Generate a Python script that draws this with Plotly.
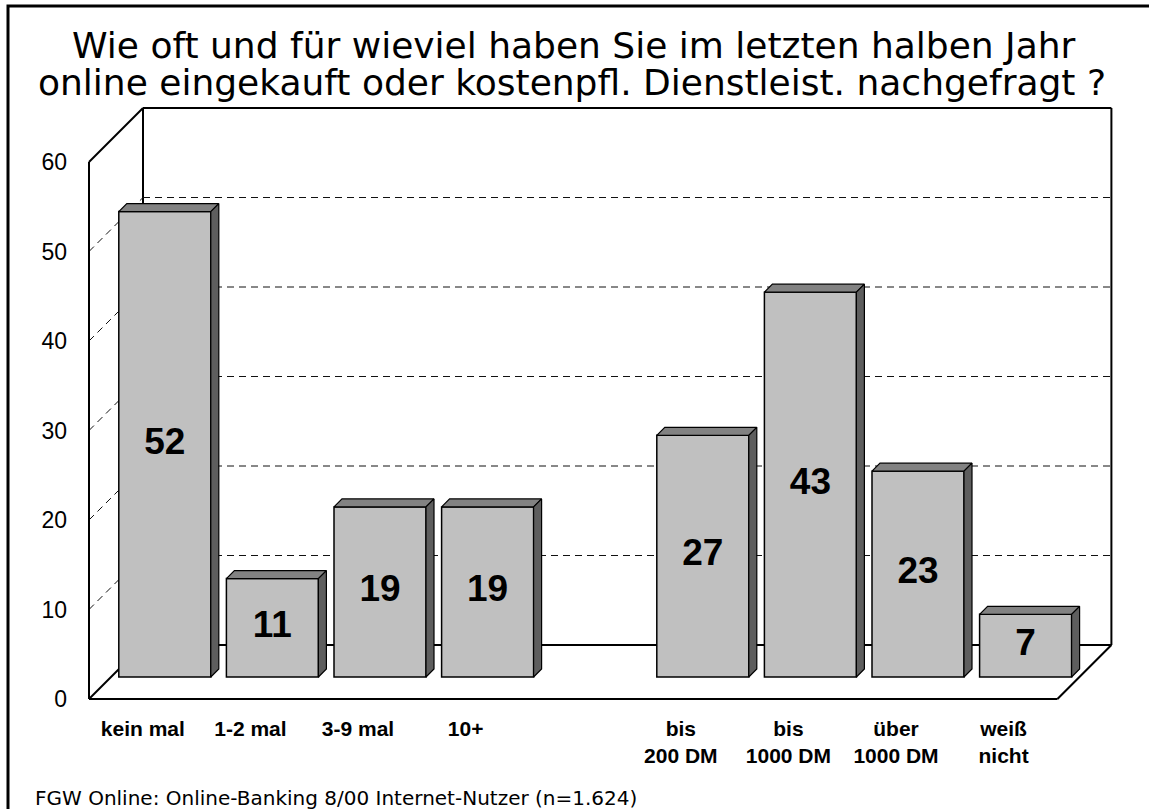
import plotly.graph_objects as go

# ---------------- data ----------------
categories = ["kein mal", "1-2 mal", "3-9 mal", "10+", "",
              "bis<br>200 DM", "bis<br>1000 DM", "über<br>1000 DM", "weiß<br>nicht"]
values = [52, 11, 19, 19, None, 27, 43, 23, 7]
y_ticks = [0, 10, 20, 30, 40, 50, 60]
title_line1 = "Wie oft und für wieviel haben Sie im letzten halben Jahr"
title_line2 = "online eingekauft oder kostenpfl. Dienstleist. nachgefragt ?"
footnote = "FGW Online: Online-Banking 8/00 Internet-Nutzer (n=1.624)"

# ---------------- geometry / style ----------------
W, H = 1149, 809
FRONT_X0 = 89      # pixel x of the left front edge of the floor
FRONT_Y0 = 699     # pixel y of value 0 on the front plane
SLOT_PX = 107.6    # pixels per category slot
UNIT_PX = 8.95     # pixels per value unit
BAR_OFF = 22       # depth offset of the bar plane (px)
BACK_OFF = 54      # depth offset of the back wall (px)
BAR_DEPTH = 8      # bar thickness in depth (px)
BAR_W = 0.855      # bar width in slots
PL, PR, PT, PB = 76, 1128, 96, 712   # plot-area pixel box

n = len(categories)
xr = [-0.5 + (PL - FRONT_X0) / SLOT_PX, -0.5 + (PR - FRONT_X0) / SLOT_PX]
yr = [(FRONT_Y0 - PB) / UNIT_PX, (FRONT_Y0 - PT) / UNIT_PX]

bx, by = BAR_OFF / SLOT_PX, BAR_OFF / UNIT_PX
kx, ky = BACK_OFF / SLOT_PX, BACK_OFF / UNIT_PX
dx, dy = BAR_DEPTH / SLOT_PX, BAR_DEPTH / UNIT_PX

xs = [i + bx for i, v in enumerate(values) if v is not None]
vs = [v for v in values if v is not None]

fig = go.Figure()

# front faces
fig.add_trace(go.Bar(
    x=xs, y=vs, base=by, width=BAR_W,
    marker=dict(color="#C0C0C0", line=dict(color="black", width=1.5)),
    hoverinfo="skip", showlegend=False))

# top faces and side faces
tx, ty, sx, sy = [], [], [], []
for x, v in zip(xs, vs):
    l, r, t = x - BAR_W / 2, x + BAR_W / 2, by + v
    tx += [l, l + dx, r + dx, r, l, None]
    ty += [t, t + dy, t + dy, t, t, None]
    sx += [r, r + dx, r + dx, r, r, None]
    sy += [t, t + dy, by + dy, by, t, None]
fig.add_trace(go.Scatter(x=tx, y=ty, mode="lines", fill="toself",
                         fillcolor="#828282", line=dict(color="black", width=1.2),
                         hoverinfo="skip", showlegend=False))
fig.add_trace(go.Scatter(x=sx, y=sy, mode="lines", fill="toself",
                         fillcolor="#5E5E5E", line=dict(color="black", width=1.2),
                         hoverinfo="skip", showlegend=False))

# value labels
fig.add_trace(go.Scatter(
    x=xs, y=[by + v / 2 for v in vs], mode="text", text=[str(v) for v in vs],
    textfont=dict(family="Liberation Sans, Arial", size=37, color="black", weight="bold"),
    hoverinfo="skip", showlegend=False, cliponaxis=False))

# ---------------- 3D frame ----------------
x_lo, x_hi = -0.5, n - 0.5
y_top = max(y_ticks)
solid = dict(color="black", width=2)
dash = dict(color="#111111", width=1, dash="7px,5px")
shapes = []

def seg(x0, y0, x1, y1, line):
    shapes.append(dict(type="line", xref="x", yref="y", x0=x0, y0=y0, x1=x1, y1=y1,
                       line=line, layer="below"))

# back wall
seg(x_lo + kx, ky, x_lo + kx, y_top + ky, solid)
seg(x_lo + kx, y_top + ky, x_hi + kx, y_top + ky, solid)
seg(x_hi + kx, y_top + ky, x_hi + kx, ky, solid)
seg(x_lo + kx, ky, x_hi + kx, ky, solid)
for t in y_ticks[1:-1]:
    seg(x_lo + kx, t + ky, x_hi + kx, t + ky, dash)
    seg(x_lo, t, x_lo + kx, t + ky, dash)
# left wall
seg(x_lo, 0, x_lo, y_top, solid)
seg(x_lo, y_top, x_lo + kx, y_top + ky, solid)
seg(x_lo, 0, x_lo + kx, ky, solid)
# floor
seg(x_lo, 0, x_hi, 0, solid)
seg(x_hi, 0, x_hi + kx, ky, solid)

# outer border
shapes.append(dict(type="rect", xref="paper", yref="paper",
                   x0=8 / W, y0=-0.02, x1=1.02, y1=1 - 6 / H,
                   line=dict(color="black", width=3), layer="above"))

annotations = [
    dict(text=title_line1, x=574 / W, y=1 - 45 / H, xref="paper", yref="paper",
         xanchor="center", yanchor="middle", showarrow=False,
         font=dict(family="DejaVu Sans", size=36, color="black")),
    dict(text=title_line2, x=572 / W, y=1 - 83 / H, xref="paper", yref="paper",
         xanchor="center", yanchor="middle", showarrow=False,
         font=dict(family="DejaVu Sans", size=36, color="black")),
    dict(text=footnote, x=33 / W, y=1 - 798 / H, xref="paper", yref="paper",
         xanchor="left", yanchor="middle", showarrow=False,
         font=dict(family="DejaVu Sans", size=20, color="black")),
]

fig.update_layout(
    width=W, height=H, margin=dict(l=0, r=0, t=0, b=0),
    paper_bgcolor="white", plot_bgcolor="rgba(0,0,0,0)",
    showlegend=False, hovermode=False,
    shapes=shapes, annotations=annotations,
    xaxis=dict(range=xr, domain=[PL / W, PR / W], tickmode="array",
               tickvals=list(range(n)), ticktext=categories,
               tickfont=dict(family="Liberation Sans, Arial", size=21, color="black", weight="bold"),
               showgrid=False, zeroline=False, showline=False, ticks="",
               ticklabelstandoff=2, automargin=False, fixedrange=True),
    yaxis=dict(range=yr, domain=[1 - PB / H, 1 - PT / H], tickmode="array",
               tickvals=y_ticks, ticktext=[str(t) for t in y_ticks],
               tickfont=dict(family="Liberation Sans, Arial", size=23, color="black"),
               showgrid=False, zeroline=False, showline=False, ticks="",
               ticklabelstandoff=8, automargin=False, fixedrange=True),
)

fig.write_html("out.html", config={"displayModeBar": False},
               post_script="document.body.style.margin='0';document.body.style.overflow='hidden';")
